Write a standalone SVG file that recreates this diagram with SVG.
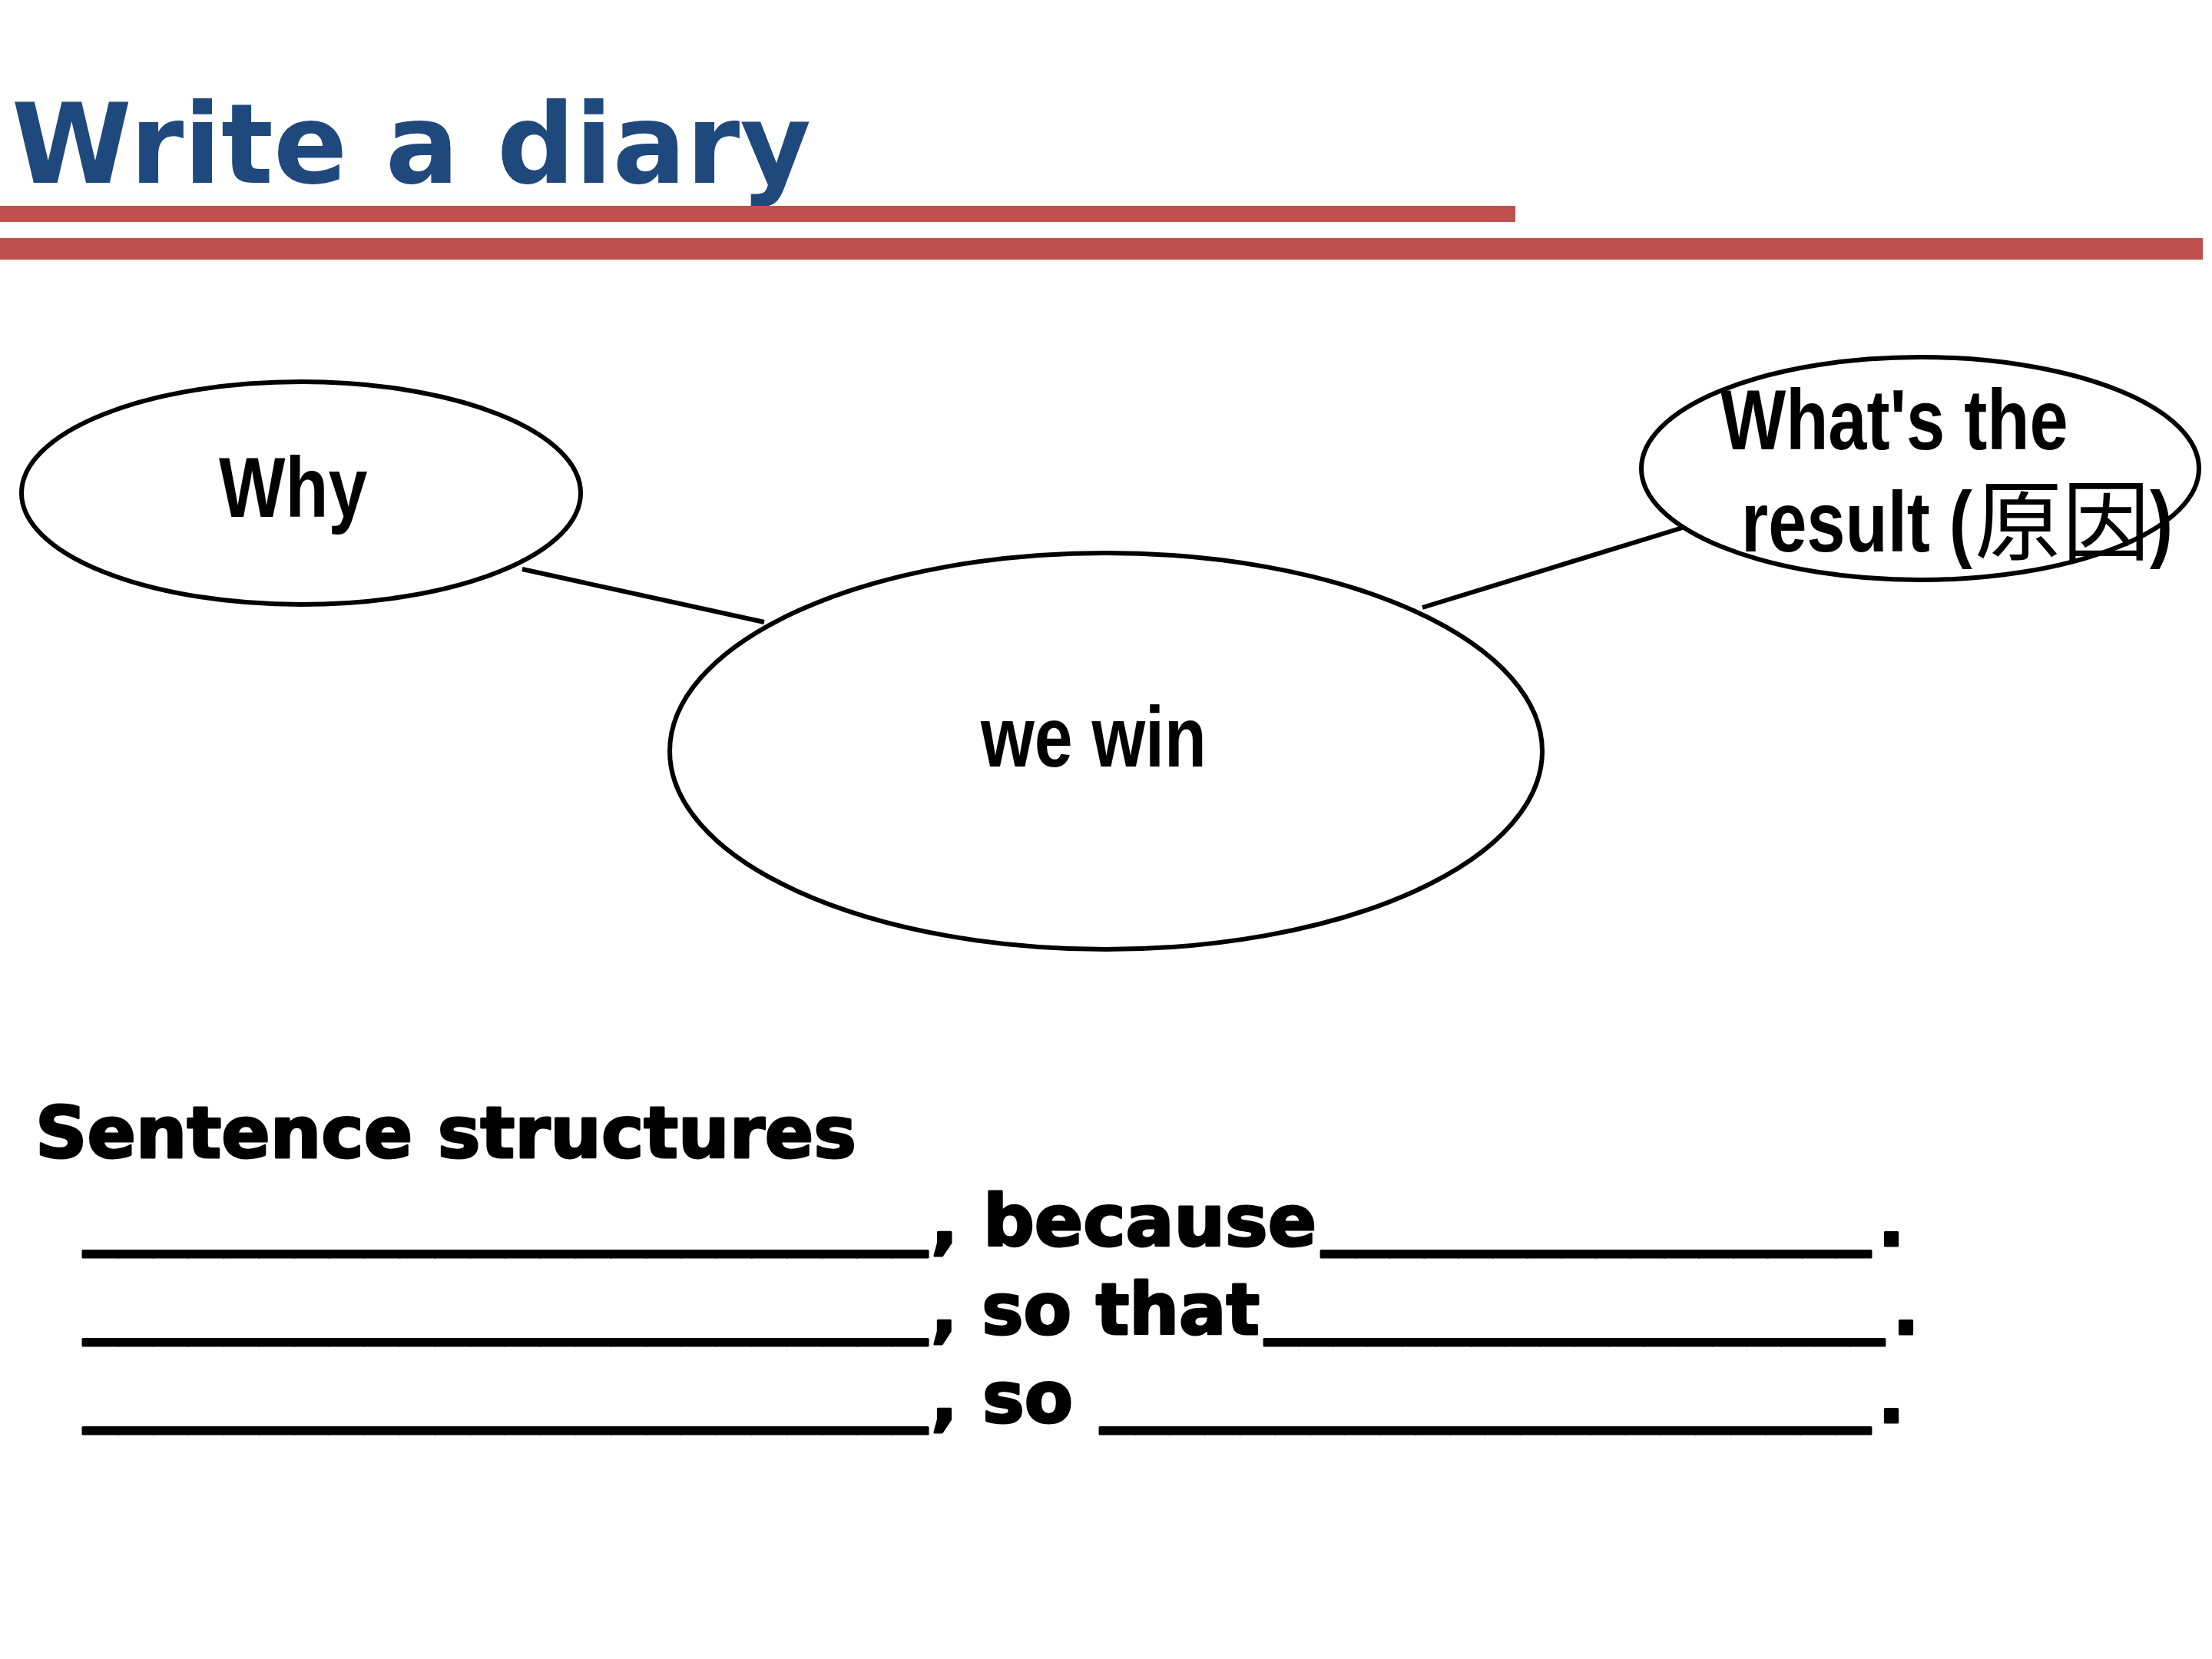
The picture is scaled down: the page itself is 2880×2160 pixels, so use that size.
<svg xmlns="http://www.w3.org/2000/svg" width="2880" height="2160" viewBox="0 0 2880 2160">
<style>
.bg{fill:#ffffff}
.bar{fill:#C0504D}
.title{font-family:"DejaVu Sans",Verdana,sans-serif;font-weight:bold;font-size:145px;fill:#1F497D}
.node{fill:#ffffff;stroke:#000000;stroke-width:6}
.lbl{font-family:"Liberation Sans",Arial,sans-serif;font-weight:bold;font-size:112px;fill:#000000}
.cjk{font-family:"Noto Sans CJK SC","Noto Sans CJK TC",sans-serif;font-weight:normal;font-size:114px;fill:#000000}
.conn{stroke:#000000;stroke-width:6;fill:none}
.sent{font-family:"DejaVu Sans",Verdana,sans-serif;font-weight:bold;font-size:92px;fill:#000000;stroke:#000000;stroke-width:3;stroke-linejoin:round}
</style>
<rect class="bg" x="0" y="0" width="2880" height="2160"/>
<g id="header">
<text class="title" x="15" y="238" textLength="1041" lengthAdjust="spacingAndGlyphs">Write a diary</text>
<rect class="bar" x="0" y="268" width="1973" height="21"/>
<rect class="bar" x="0" y="310" width="2868" height="28"/>
</g>
<g id="connectors">
<line class="conn" x1="680" y1="741" x2="995" y2="810"/>
<line class="conn" x1="1852" y1="791" x2="2194" y2="686"/>
</g>
<g id="node-why">
<ellipse class="node" cx="392" cy="642" rx="364" ry="145"/>
<text class="lbl" transform="translate(285,673) scale(0.818,1)">Why</text>
</g>
<g id="node-center">
<ellipse class="node" cx="1440" cy="978" rx="568" ry="258"/>
<text class="lbl" transform="translate(1277,998) scale(0.80,1)">we win</text>
</g>
<g id="node-result">
<ellipse class="node" cx="2500" cy="610" rx="363" ry="145"/>
<text class="lbl" transform="translate(2240,585) scale(0.806,1)">What's the</text>
<text class="lbl" transform="translate(2267,718) scale(0.806,1)">result (</text>
<text class="cjk" x="2571" y="720">原因</text>
<text class="lbl" transform="translate(2799,718) scale(0.806,1)">)</text>
</g>
<g id="sentences">
<text class="sent" x="46" y="1507" textLength="1069" lengthAdjust="spacingAndGlyphs">Sentence structures</text>
<text class="sent" x="108" y="1615" textLength="1100" lengthAdjust="spacingAndGlyphs">________________________</text>
<text class="sent" x="1212" y="1622" textLength="502" lengthAdjust="spacingAndGlyphs">, because</text>
<text class="sent" x="1720" y="1615" textLength="716" lengthAdjust="spacingAndGlyphs">________________</text>
<text class="sent" x="2445" y="1622">.</text>
<text class="sent" x="108" y="1730" textLength="1100" lengthAdjust="spacingAndGlyphs">________________________</text>
<text class="sent" x="1212" y="1737" textLength="428" lengthAdjust="spacingAndGlyphs">, so that</text>
<text class="sent" x="1646" y="1730" textLength="808" lengthAdjust="spacingAndGlyphs">__________________</text>
<text class="sent" x="2464" y="1737">.</text>
<text class="sent" x="108" y="1845" textLength="1100" lengthAdjust="spacingAndGlyphs">________________________</text>
<text class="sent" x="1212" y="1852">, so </text>
<text class="sent" x="1432" y="1845" textLength="1004" lengthAdjust="spacingAndGlyphs">______________________</text>
<text class="sent" x="2445" y="1852">.</text>
</g>
</svg>
